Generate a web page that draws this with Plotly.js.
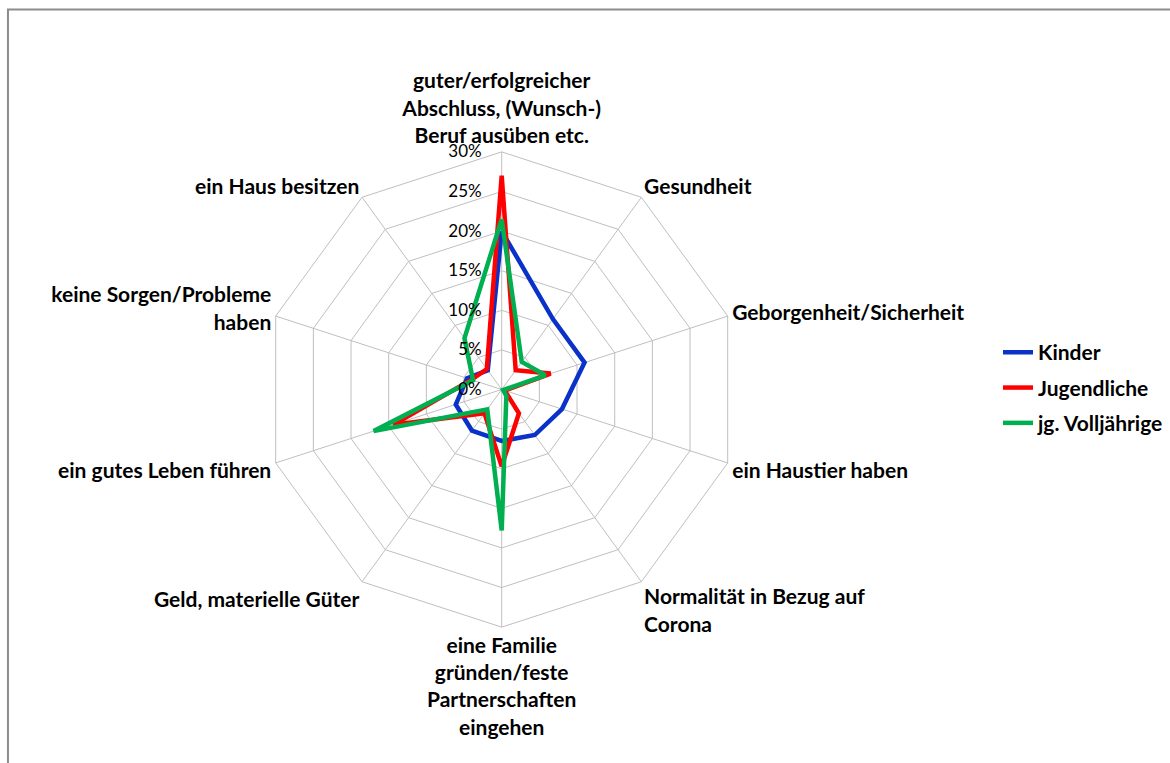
<!DOCTYPE html>
<html>
<head>
<meta charset="utf-8">
<script src="https://cdn.plot.ly/plotly-3.0.1.min.js"></script>
<style>html,body{margin:0;padding:0;background:#fff;}#chart{width:1170px;height:763px;}</style>
</head>
<body>
<div id="chart"></div>
<script>
const categories = [
  "guter/erfolgreicher<br>Abschluss, (Wunsch-)<br>Beruf ausüben etc.",
  "Gesundheit",
  "Geborgenheit/Sicherheit",
  "ein Haustier haben",
  "Normalität in Bezug auf<br>Corona",
  "eine Familie<br>gründen/feste<br>Partnerschaften<br>eingehen",
  "Geld, materielle Güter",
  "ein gutes Leben führen",
  "keine Sorgen/Probleme<br>haben",
  "ein Haus besitzen"
];
const seriesNames = ["Kinder", "Jugendliche", "jg. Volljährige"];
const kinder       = [20.0, 11.0, 11.0, 8.0, 7.1, 6.5, 6.4, 6.1, 4.6, 3.0];
const jugendliche  = [27.0, 3.0, 6.5, 0.4, 3.7, 9.7, 3.7, 14.4, 4.0, 3.2];
const volljaehrige = [21.5, 4.3, 5.8, 0.2, 1.0, 17.8, 3.1, 17.0, 3.8, 8.0];
const radialTicks = [0, 5, 10, 15, 20, 25, 30];
const colors = ["#0A32C8", "#FF0000", "#00B050"];

// trailing en-spaces keep the radial tick labels a little left of the axis
const radialTickText = radialTicks.map(v => v + "%" + "\u2002\u2002");

const allSeries = [kinder, jugendliche, volljaehrige];
const traces = allSeries.map((vals, i) => ({
  type: "scatterpolar",
  mode: "lines",
  name: seriesNames[i],
  legendgroup: "g" + i,
  r: vals.concat([vals[0]]),
  theta: categories.concat([categories[0]]),
  line: {color: colors[i], width: 4.5},
  hoverinfo: "skip"
}));

const layout = {
  width: 1170, height: 763,
  margin: {l: 0, r: 0, t: 0, b: 0},
  paper_bgcolor: "#ffffff",
  font: {family: "Lato, 'Open Sans', sans-serif", color: "#000"},
  showlegend: true,
  legend: {
    x: 0.853, y: 0.492, xanchor: "left", yanchor: "middle",
    font: {size: 21, family: "Lato, sans-serif", weight: "bold"},
    traceorder: "grouped", tracegroupgap: 5,
    bgcolor: "rgba(0,0,0,0)"
  },
  polar: {
    domain: {x: [0.2257, 0.6319], y: [0.178, 0.801]},
    gridshape: "linear",
    bgcolor: "#ffffff",
    angularaxis: {
      type: "category",
      categoryarray: categories,
      rotation: 90,
      direction: "clockwise",
      showline: true, linecolor: "#BFBFBF", linewidth: 1,
      gridcolor: "#BFBFBF", gridwidth: 1,
      ticks: "",
      tickfont: {size: 21, family: "Lato, sans-serif", weight: "bold", color: "#000"}
    },
    radialaxis: {
      range: [0, 30],
      tickvals: radialTicks,
      ticktext: radialTickText,
      angle: 90,
      tickangle: 90,
      side: "counterclockwise",
      showline: false,
      ticks: "",
      gridcolor: "#BFBFBF", gridwidth: 1,
      tickfont: {size: 17, family: "Lato, sans-serif", color: "#000"}
    }
  },
  shapes: [{
    type: "rect", xref: "paper", yref: "paper",
    x0: 0.0068, x1: 1.05, y0: -0.05, y1: 0.9875,
    line: {color: "#8C8C8C", width: 2}
  }]
};

Plotly.newPlot("chart", traces, layout, {displayModeBar: false, staticPlot: true});
</script>
</body>
</html>
